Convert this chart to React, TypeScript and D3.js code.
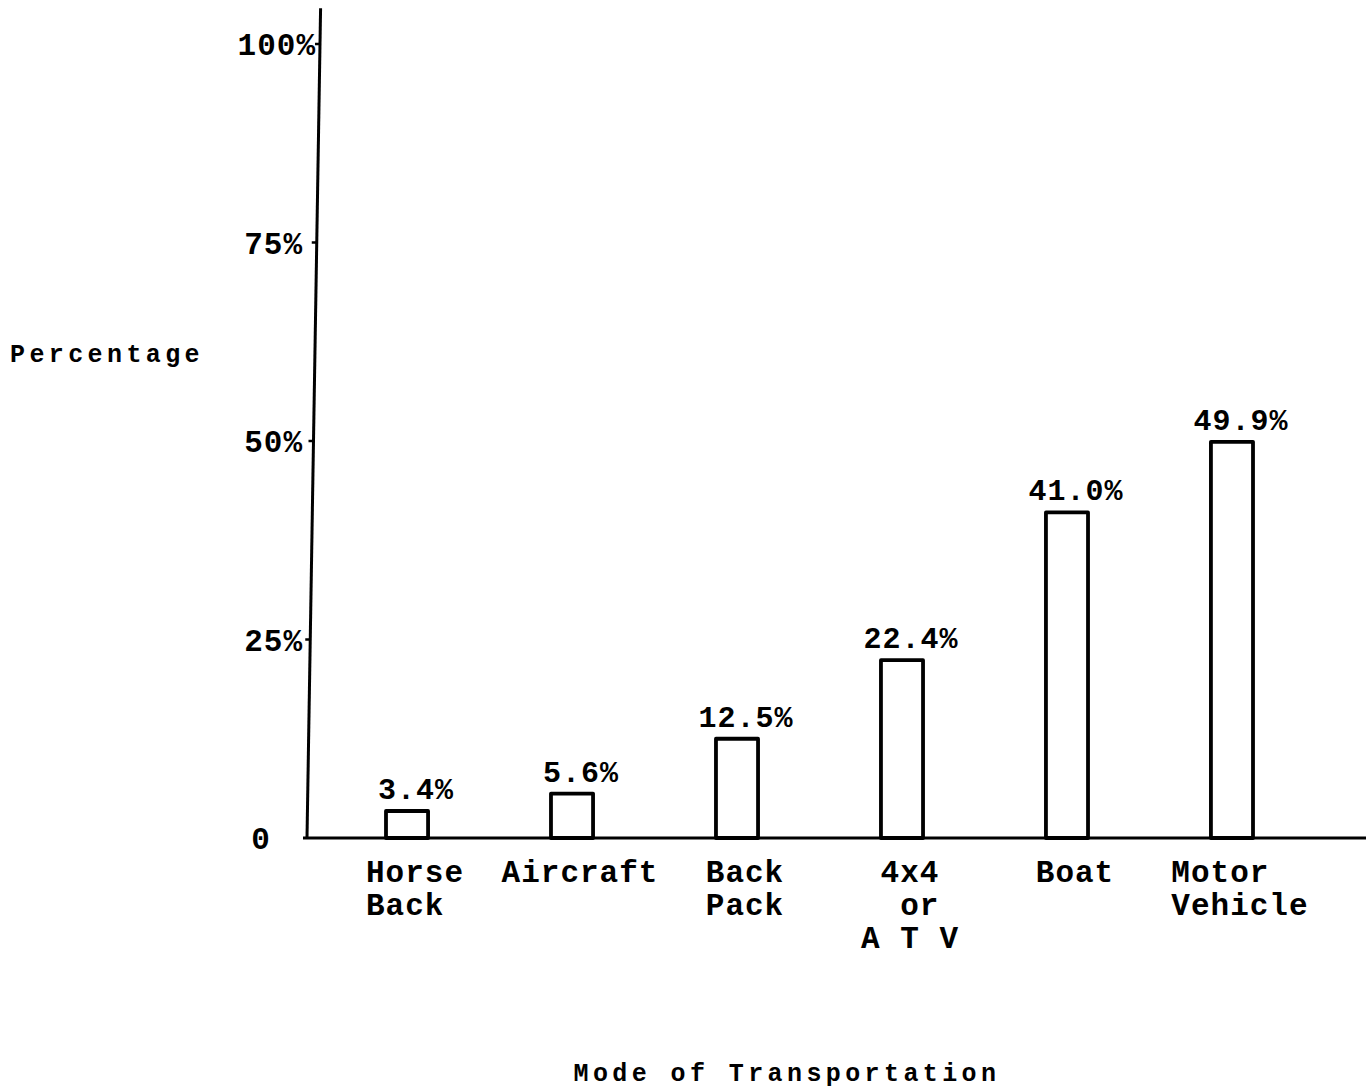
import React from "react";
import * as d3 from "d3";

const categories = ["Horse Back", "Aircraft", "Back Pack", "4x4 or ATV", "Boat", "Motor Vehicle"];
const values = [3.4, 5.6, 12.5, 22.4, 41.0, 49.9];
const valueLabels = ["3.4%", "5.6%", "12.5%", "22.4%", "41.0%", "49.9%"];
const categoryLines = [
  ["Horse", "Back"],
  ["Aircraft"],
  ["Back", "Pack"],
  [" 4x4", "  or", "A T V"],
  ["Boat"],
  ["Motor", "Vehicle"],
];
const yTicks = [0, 25, 50, 75, 100];
const yTickLabels = ["0  ", "25%", "50%", "75%", "100%"];
const yTitle = "Percentage";
const xTitle = "Mode of Transportation";

const W = 1366;
const H = 1089;
const FONT = "'Liberation Mono', 'DejaVu Sans Mono', 'Courier New', monospace";

export default function App() {
  const y = d3.scaleLinear().domain([0, 100]).range([838, 44]);
  const x = d3
    .scaleBand<string>()
    .domain(categories)
    .range([320, 1319])
    .paddingInner(0.745)
    .paddingOuter(0.4);
  // slightly leaning hand-drawn axis
  const axisX = (v: number) => 307 + (13 * v) / 100;
  const catFont = 31;
  const ls = 1;
  const pitch = catFont * 0.6 + ls;

  return (
    <svg
      width={W}
      height={H}
      viewBox={`0 0 ${W} ${H}`}
      style={{ position: "absolute", left: 0, top: 0, background: "#fff" }}
    >
      <rect x={0} y={0} width={W} height={H} fill="#fff" />
      {/* y axis */}
      <line
        x1={axisX(0)}
        y1={y(0)}
        x2={axisX(104.5)}
        y2={y(104.5)}
        stroke="#000"
        strokeWidth={3}
      />
      {/* baseline */}
      <line x1={303} y1={y(0)} x2={W} y2={y(0)} stroke="#000" strokeWidth={3} />
      {/* ticks */}
      {yTicks.map((t, i) => (
        <g key={t}>
          {t > 0 && (
            <line
              x1={axisX(t) - 5}
              y1={y(t)}
              x2={axisX(t)}
              y2={y(t)}
              stroke="#000"
              strokeWidth={2.5}
            />
          )}
          <text
            x={t === 100 ? axisX(t) - 4 : t === 0 ? 310 : 303}
            y={y(t) + 11}
            textAnchor="end"
            fontFamily={FONT}
            fontWeight="bold"
            fontSize={31}
            letterSpacing={ls}
            fill="#000"
            style={{ whiteSpace: "pre" }}
          >
            {yTickLabels[i]}
          </text>
        </g>
      ))}
      {/* bars */}
      {categories.map((c, i) => (
        <rect
          key={c}
          x={x(c)}
          y={y(values[i])}
          width={x.bandwidth()}
          height={y(0) - y(values[i])}
          fill="#fff"
          stroke="#000"
          strokeWidth={3.8}
          strokeLinejoin="round"
        />
      ))}
      {/* value labels */}
      {categories.map((c, i) => (
        <text
          key={c + "v"}
          x={(x(c) as number) + x.bandwidth() / 2 + 9}
          y={y(values[i]) - 12}
          textAnchor="middle"
          fontFamily={FONT}
          fontWeight="bold"
          fontSize={30}
          letterSpacing={ls}
          fill="#000"
        >
          {valueLabels[i]}
        </text>
      ))}
      {/* category labels */}
      {categories.map((c, i) => {
        const lines = categoryLines[i];
        const maxLen = d3.max(lines, (l) => l.length) as number;
        const cx = (x(c) as number) + x.bandwidth() / 2 + 8;
        const left = cx - (maxLen * pitch) / 2;
        return (
          <g key={c + "l"}>
            {lines.map((l, j) => (
              <text
                key={j}
                x={left}
                y={882 + j * 33}
                textAnchor="start"
                fontFamily={FONT}
                fontWeight="bold"
                fontSize={catFont}
                letterSpacing={ls}
                fill="#000"
                style={{ whiteSpace: "pre" }}
              >
                {l}
              </text>
            ))}
          </g>
        );
      })}
      {/* axis titles */}
      <text
        x={10}
        y={362}
        fontFamily={FONT}
        fontWeight="bold"
        fontSize={25}
        letterSpacing={4.4}
        fill="#000"
      >
        {yTitle}
      </text>
      <text
        x={787}
        y={1081}
        textAnchor="middle"
        fontFamily={FONT}
        fontWeight="bold"
        fontSize={25}
        letterSpacing={4.4}
        fill="#000"
      >
        {xTitle}
      </text>
    </svg>
  );
}
